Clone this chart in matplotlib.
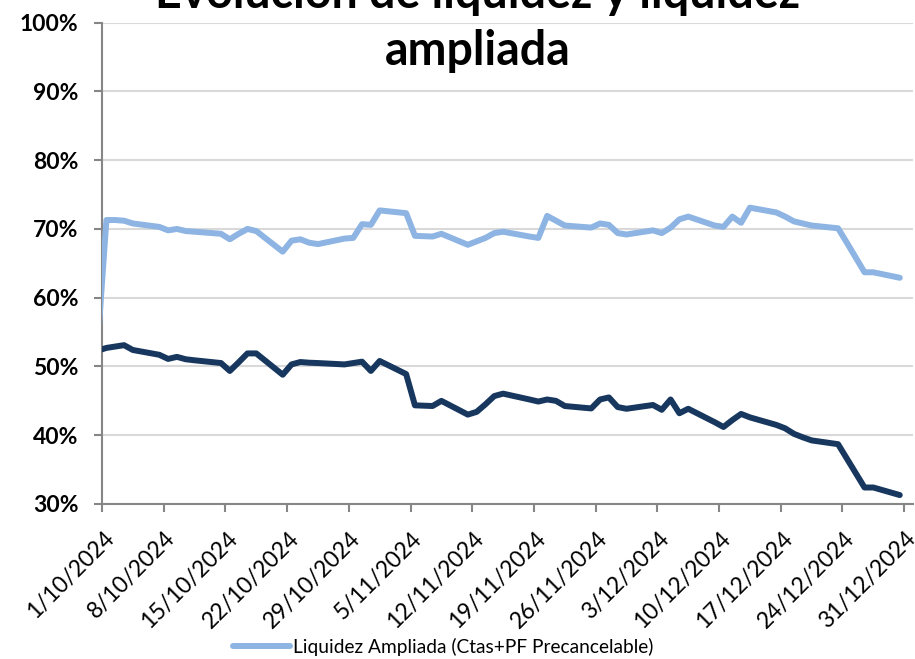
import matplotlib
matplotlib.use('Agg')
import matplotlib.pyplot as plt
import matplotlib.transforms as mtransforms
from matplotlib.ticker import FuncFormatter
import pandas as pd

# business days shown in the series (30/9 is clipped by the axis start)
DATES = [d for d in pd.bdate_range('2024-09-30', '2024-12-30')
         if d != pd.Timestamp('2024-12-25')]

AMPLIADA = [53.0,
            71.3, 71.3, 71.2, 70.8, 70.3, 69.8, 70.0, 69.7, 69.6, 69.3,
            68.5, 69.3, 70.0, 69.7, 66.7, 68.3, 68.5, 68.0, 67.8, 68.6,
            68.7, 70.7, 70.6,
            72.7, 72.3, 69.0, 68.95, 68.9, 69.3, 67.7, 68.2, 68.7, 69.4,
            69.6, 68.9, 68.7, 71.9, 71.2, 70.5, 70.2, 70.8, 70.6, 69.4,
            69.2,
            69.8, 69.4, 70.2, 71.4, 71.8, 70.5, 70.3, 71.8, 70.9, 73.1,
            72.4, 71.8, 71.1, 70.8, 70.5, 70.1, 68.0, 63.7, 63.7, 62.9]

LIQUIDEZ = [52.3,
            52.7, 52.9, 53.1, 52.4, 51.7, 51.1, 51.4, 51.05, 50.9, 50.5,
            49.35, 50.6, 51.9, 51.9, 48.8, 50.3, 50.65, 50.55, 50.5, 50.3,
            50.5, 50.7, 49.35,
            50.8, 48.9, 44.35, 44.3, 44.25, 45.0, 43.0, 43.4, 44.5, 45.7,
            46.05, 45.2, 44.9, 45.2, 45.0, 44.25, 43.9, 45.2, 45.5, 44.1,
            43.85,
            44.4, 43.7, 45.2, 43.2, 43.85, 41.9, 41.2, 42.2, 43.1, 42.6,
            41.5, 41.0, 40.2, 39.7, 39.25, 38.7, 36.6, 32.4, 32.4, 31.3]

TITLE = 'Evolución de liquidez y liquidez\nampliada'
LEGEND_LABEL = 'Liquidez Ampliada (Ctas+PF Precancelable)'

LIGHT = '#8DB4E2'
DARK = '#17375E'
AXIS = '#868686'
GRID = '#D9D9D9'

plt.rcParams['font.family'] = ['Lato', 'DejaVu Sans']

fig = plt.figure(figsize=(9.15, 6.59), dpi=100)
ax = fig.add_axes([102/915, 1 - 504/659, 811/915, 481.3/659])

# excel date axis: each point sits in the middle of its day slot
x = pd.DatetimeIndex(DATES) + pd.Timedelta(hours=12)
la, = ax.plot(x, AMPLIADA, color=LIGHT, lw=4.3, solid_joinstyle='round',
              solid_capstyle='round', label=LEGEND_LABEL, zorder=3)
ax.plot(x, LIQUIDEZ, color=DARK, lw=4.3, solid_joinstyle='round',
        solid_capstyle='round', zorder=4)

ax.set_xlim(pd.Timestamp('2024-10-01'), pd.Timestamp('2025-01-01'))
ax.set_ylim(30, 100)
ax.set_yticks(range(30, 101, 10))
ax.yaxis.set_major_formatter(FuncFormatter(lambda v, p: f'{v:.0f}%'))
ticks = pd.date_range('2024-10-01', '2024-12-31', freq='7D')
ax.set_xticks(ticks)

ax.grid(axis='y', color=GRID, lw=1.5)
ax.set_axisbelow(True)
for s in ['top', 'right']:
    ax.spines[s].set_visible(False)
for s in ['left', 'bottom']:
    ax.spines[s].set_color(AXIS)
    ax.spines[s].set_linewidth(1.5)
ax.tick_params(axis='y', length=6, width=1.5, color=AXIS, pad=11)
ax.tick_params(axis='x', length=6, width=1.5, color=AXIS, pad=6)

# labels set after tick_params, which would reset the transforms
ax.set_xticklabels([f'{d.day}/{d.month}/{d.year}' for d in ticks],
                   rotation=45, ha='right', rotation_mode='anchor',
                   fontsize=16.5)
shift = mtransforms.ScaledTranslation(1/100, -7/100, fig.dpi_scale_trans)
for lab in ax.get_xticklabels():
    lab.set_transform(lab.get_transform() + shift)
for lab in ax.get_yticklabels():
    lab.set_fontweight('bold')
    lab.set_fontsize(16.5)

fig.text(478/915, 1 - 65/659, TITLE, ha='center', va='baseline',
         fontsize=33.5, fontweight='bold', linespacing=1.36)

fig.legend(handles=[la], loc='center', bbox_to_anchor=(443/915, 1 - 647/659),
           frameon=False, fontsize=13.8, handlelength=3.0,
           handletextpad=0.15, borderpad=0)

fig.savefig('out.png', dpi=100)
